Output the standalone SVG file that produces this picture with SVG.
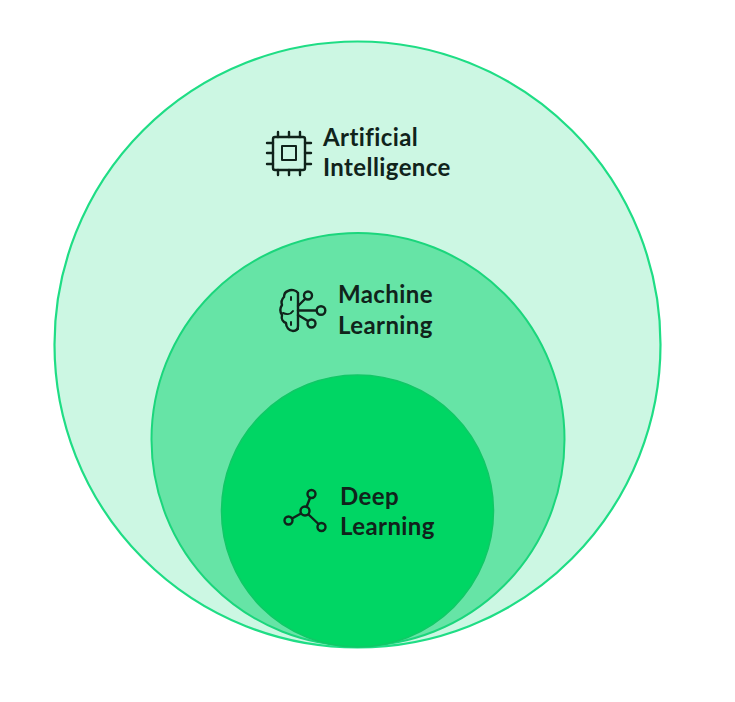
<svg xmlns="http://www.w3.org/2000/svg" width="735" height="702" viewBox="0 0 735 702">
<style>
.lbl{font-family:"Lato","Liberation Sans",sans-serif;font-weight:700;font-size:24px;letter-spacing:.4px;fill:#10231b}
.ic{fill:none;stroke:#10231b;stroke-width:2.400;stroke-linecap:round;stroke-linejoin:round}
</style>
<rect width="735" height="702" fill="#ffffff"/>
<g id="ai">
<circle cx="357.500" cy="344.500" r="303" fill="#ccf7e3" stroke="#1fdd85" stroke-width="2.200"/>
<g class="ic">
<rect x="273" y="137" width="32" height="33" rx="2"/>
<rect x="282" y="146" width="14" height="14" stroke-width="2"/>
<path d="M278 137v-5M289 137v-5M300 137v-5M278 170v5M289 170v5M300 170v5M273 143h-6M273 153h-6M273 164h-6M305 143h6M305 153h6M305 164h6"/>
</g>
<text class="lbl" x="323" y="146">Artificial</text>
<text class="lbl" x="323" y="176">Intelligence</text>
</g>
<g id="ml">
<circle cx="358" cy="439.500" r="206.500" fill="#66e4a6" stroke="#1bd67c" stroke-width="2"/>
<g class="ic">
<path d="M298 293c-2-3-7-4-10-2c-3 1-4 3-4 6c-2 2-3 5-2 8c-2 3-2 7 0 10c-1 4 1 7 4 8c0 4 3 8 7 8c3 0 5-2 5-5z"/>
<path d="M298 293v36" stroke-width="2"/>
<path d="M283 313c4 2 8 1 10-2M291 297v3M291 322v3" stroke-width="2"/>
<path d="M298 310.500h18M298 306l7-7M298 315l10 6"/>
<circle cx="308" cy="295.500" r="4"/><circle cx="321" cy="310.500" r="4.300"/><circle cx="311.500" cy="323.500" r="4"/>
</g>
<text class="lbl" x="338" y="303">Machine</text>
<text class="lbl" x="338" y="334">Learning</text>
</g>
<g id="dl">
<circle cx="357.500" cy="511" r="136" fill="#00d664" stroke="#10c866" stroke-width="1.500"/>
<g class="ic">
<circle cx="311.500" cy="494" r="4"/><circle cx="305" cy="511" r="4.500"/><circle cx="288.500" cy="520.500" r="4"/><circle cx="321.500" cy="527" r="4"/>
<path d="M310 498l-3.500 9M301 513.500l-9 5M308.500 514.500l10 9.500"/>
</g>
<text class="lbl" x="340" y="505">Deep</text>
<text class="lbl" x="340" y="535">Learning</text>
</g>
<g id="connectors"/>
</svg>
